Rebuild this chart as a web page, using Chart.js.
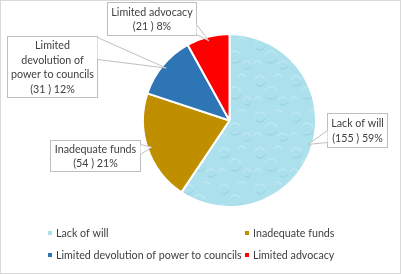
<!DOCTYPE html>
<html>
<head>
<meta charset="utf-8">
<script src="https://cdn.jsdelivr.net/npm/chart.js@4"></script>
<style>
  body { margin: 0; background: #fff; }
  #wrap { width: 401px; height: 274px; }
</style>
</head>
<body>
<div id="wrap"><canvas id="myChart" width="401" height="274"></canvas></div>
<script>
const categorias = ['Lack of will', 'Inadequate funds', 'Limited devolution of power to councils', 'Limited advocacy'];
const respuestas = [155, 54, 31, 21];
const porcentajes = ['59%', '21%', '12%', '8%'];
const colores = ['#ace0ec', '#bf8f00', '#2e75b6', '#ff0000'];

// texto de las etiquetas (lineas)
const textoEtiquetas = [
  ['Lack of will'],
  ['Inadequate funds'],
  ['Limited', 'devolution of', 'power to councils'],
  ['Limited advocacy']
];
// cajas de las etiquetas: x, y, ancho, alto
const cajas = [
  [327, 113, 60, 34],
  [50, 140, 90, 31],
  [7, 36, 90, 61],
  [107, 2, 89, 33]
];
// cuña de cada caja: lado, inicio y fin sobre ese lado
const cunas = [
  ['left', 17, 29],
  ['right', 4, 14],
  ['right', 1, 23],
  ['right', 22, 32]
];

const fuente = '10.7px Lato';

function patronAgua() {
  let c = document.createElement('canvas');
  c.width = 36; c.height = 36;
  let g = c.getContext('2d');
  g.fillStyle = '#ace0ec';
  g.fillRect(0, 0, 36, 36);
  g.strokeStyle = 'rgba(255,255,255,0.35)';
  g.lineWidth = 1;
  [[8, 9, 5], [26, 6, 4], [19, 21, 6], [6, 29, 4], [31, 29, 4]].forEach(function(b) {
    g.beginPath(); g.arc(b[0], b[1], b[2], 3.4, 6.0); g.stroke();
  });
  g.strokeStyle = 'rgba(100,170,190,0.3)';
  [[8, 9, 5], [19, 21, 6], [31, 29, 4]].forEach(function(b) {
    g.beginPath(); g.arc(b[0], b[1], b[2], 0.3, 2.4); g.stroke();
  });
  return g.createPattern(c, 'repeat');
}

const pluginEtiquetas = {
  id: 'etiquetas',
  afterDatasetsDraw(chart) {
    let ctx = chart.ctx;
    let meta = chart.getDatasetMeta(0);
    ctx.save();
    meta.data.forEach(function(arc, i) {
      let p = arc.getProps(['x', 'y', 'startAngle', 'endAngle', 'outerRadius'], true);
      let a = (p.startAngle + p.endAngle) / 2;
      let tx = p.x + Math.cos(a) * p.outerRadius * 0.95;
      let ty = p.y + Math.sin(a) * p.outerRadius * 0.95;
      let b = cajas[i];
      let x = b[0], y = b[1], w = b[2], h = b[3];
      let cu = cunas[i];
      let ex = cu[0] == 'left' ? x : x + w;
      let b1 = [ex, y + cu[1]], b2 = [ex, y + cu[2]];
      ctx.fillStyle = '#ffffff';
      ctx.strokeStyle = '#bfbfbf';
      ctx.lineWidth = 1;
      ctx.fillRect(x, y, w, h);
      ctx.strokeRect(x + 0.5, y + 0.5, w, h);
      ctx.beginPath();
      ctx.moveTo(b1[0] + 0.5, b1[1]); ctx.lineTo(tx, ty); ctx.lineTo(b2[0] + 0.5, b2[1]);
      ctx.closePath();
      ctx.fill();
      ctx.beginPath();
      ctx.moveTo(b1[0] + 0.5, b1[1] + 0.5); ctx.lineTo(tx, ty); ctx.lineTo(b2[0] + 0.5, b2[1] + 0.5);
      ctx.stroke();
      // texto
      let lineas = textoEtiquetas[i].concat(['(' + respuestas[i] + ' ) ' + porcentajes[i]]);
      ctx.fillStyle = '#404040';
      ctx.font = fuente;
      ctx.textAlign = 'center';
      ctx.textBaseline = 'middle';
      let cy = y + h / 2 - (lineas.length - 1) * 14.7 / 2 + 1;
      lineas.forEach(function(t, k) {
        ctx.fillText(t, x + w / 2 + 0.5, cy + k * 14.7);
      });
    });
    ctx.restore();
  },
  afterDraw(chart) {
    let ctx = chart.ctx;
    ctx.save();
    // leyenda en dos columnas
    let pos = [[48, 233], [245, 233], [48, 255], [245, 255]];
    ctx.font = fuente;
    ctx.textAlign = 'left';
    ctx.textBaseline = 'middle';
    categorias.forEach(function(c, i) {
      ctx.fillStyle = colores[i];
      ctx.fillRect(pos[i][0], pos[i][1] - 2, 4, 4);
      ctx.fillStyle = '#404040';
      ctx.fillText(c, pos[i][0] + 8, pos[i][1] + 1);
    });
    ctx.strokeStyle = '#d9d9d9';
    ctx.lineWidth = 1;
    ctx.strokeRect(0.5, 0.5, chart.width - 1, chart.height - 1);
    ctx.restore();
  }
};

let canva = document.getElementById('myChart').getContext('2d');
let fondos = colores.slice();
fondos[0] = patronAgua();

var myChart = new Chart(canva, {
  type: 'pie',
  data: {
    labels: categorias,
    datasets: [{
      data: respuestas,
      backgroundColor: fondos,
      borderColor: '#ffffff',
      borderWidth: 2
    }]
  },
  options: {
    responsive: false,
    animation: false,
    layout: { padding: { left: 142, right: 84, top: 33, bottom: 66 } },
    plugins: {
      legend: { display: false },
      tooltip: { enabled: false }
    }
  },
  plugins: [pluginEtiquetas]
});
</script>
</body>
</html>
